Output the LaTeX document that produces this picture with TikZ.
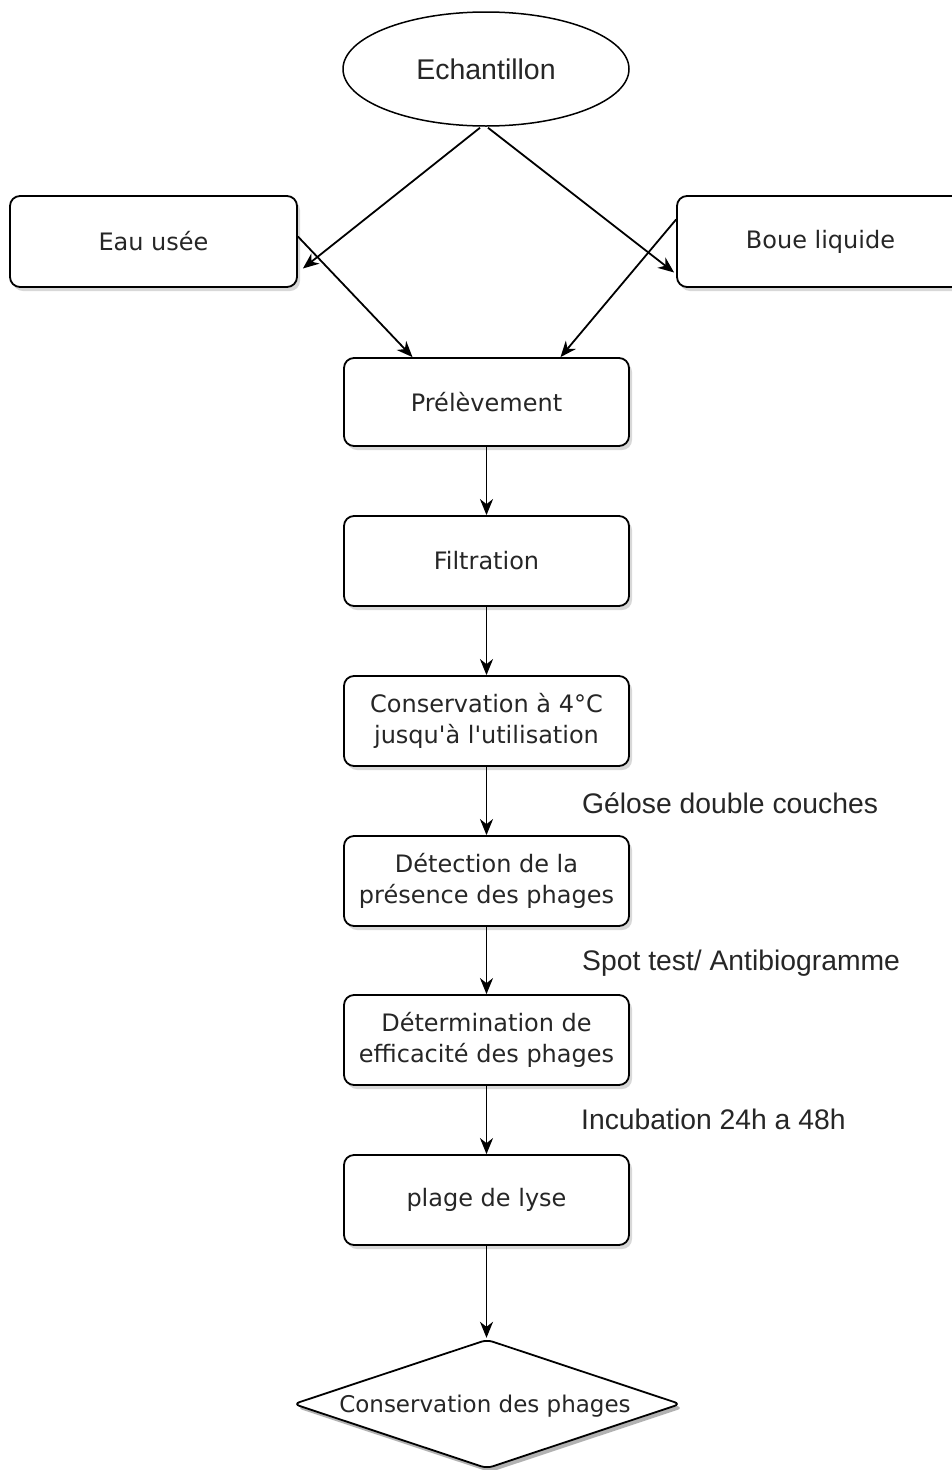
\documentclass[tikz,border=0pt]{standalone}
\usepackage{fontspec}
\newfontfamily\dvs{DejaVu Sans}
\newfontfamily\arialf{Liberation Sans}
\usetikzlibrary{shapes.geometric,shadows,arrows.meta,calc}
\begin{document}
\begin{tikzpicture}[x=1pt,y=-1pt,
  stepbox/.style={draw, line width=1.8pt, rounded corners=10pt, minimum width=285pt, minimum height=90pt,
    inner sep=0pt, align=center, text=black!85, font=\dvs\fontsize{24}{30.5}\selectfont,
    drop shadow={shadow xshift=3pt, shadow yshift=-4pt, fill=black!30}, fill=white},
  arr/.style={line width=1.8pt, -{Stealth[length=16pt,width=13pt,inset=5pt]}},
  lbl/.style={anchor=base west, inner sep=0pt, text=black!85, font=\arialf\fontsize{28.3}{32}\selectfont}]
\useasboundingbox (0,0) rectangle (951,1470);
\fill[white] (0,0) rectangle (951,1470);

\node[ellipse, draw, line width=1.5pt, minimum width=286pt, minimum height=114pt, inner sep=0pt,
  text=black!85, font=\arialf\fontsize{28.5}{32}\selectfont] (ech) at (486,69) {Echantillon};

\node[stepbox, minimum width=287pt, minimum height=91pt] (eau) at (153.5,241.5) {Eau usée};
\node[stepbox, minimum width=287pt, minimum height=91pt] (boue) at (820.5,241.5) {Boue liquide};

\node[stepbox, minimum height=88pt] (prel) at (486.5,402) {Prélèvement};
\node[stepbox] (filt) at (486.5,561) {Filtration};
\node[stepbox] (cons) at (486.5,721) {Conservation à 4°C\\jusqu'à l'utilisation};
\node[stepbox] (det) at (486.5,881) {Détection de la\\présence des phages};
\node[stepbox] (eff) at (486.5,1040) {Détermination de\\efficacité des phages};
\node[stepbox] (lyse) at (486.5,1200) {plage de lyse};

\node[minimum width=386pt, minimum height=128pt, inner sep=0pt] (consp) at (487,1404) {};
\fill[black!30, rounded corners=6pt] ($(consp.north)+(3,4)$) -- ($(consp.east)+(3,4)$) -- ($(consp.south)+(3,4)$) -- ($(consp.west)+(3,4)$) -- cycle;
\filldraw[fill=white, line width=1.8pt, rounded corners=6pt] (consp.north) -- (consp.east) -- (consp.south) -- (consp.west) -- cycle;
\node[text=black!85, font=\dvs\fontsize{23}{30}\selectfont] (consptxt) at ($(consp.center)+(-2,2)$) {Conservation des phages};

\coordinate (e1) at ($(ech.south)+(-6,1)$);
\coordinate (e2) at ($(ech.south)+(2,1)$);
\draw[arr] (e1) -- ($(eau.east)+(5,27)$);
\draw[arr] (e2) -- ($(boue.west)+(-2,31)$);
\draw[arr] ($(eau.east)+(0,-5)$) -- ($(prel.north)+(-74,0)$);
\draw[arr] ($(boue.west)+(0,-22)$) -- ($(prel.north)+(74,0)$);

\draw[arr] (prel) -- (filt);
\draw[arr] (filt) -- (cons);
\draw[arr] (cons) -- (det);
\draw[arr] (det) -- (eff);
\draw[arr] (eff) -- (lyse);
\draw[arr] (lyse.south) -- ($(lyse.south |- consp.north)+(0,-2)$);

\node[lbl] (l1) at (582,813) {Gélose double couches};
\node[lbl] (l2) at (582,970) {Spot test/ Antibiogramme};
\node[lbl] (l3) at (581,1129) {Incubation 24h a 48h};
\end{tikzpicture}
\end{document}
